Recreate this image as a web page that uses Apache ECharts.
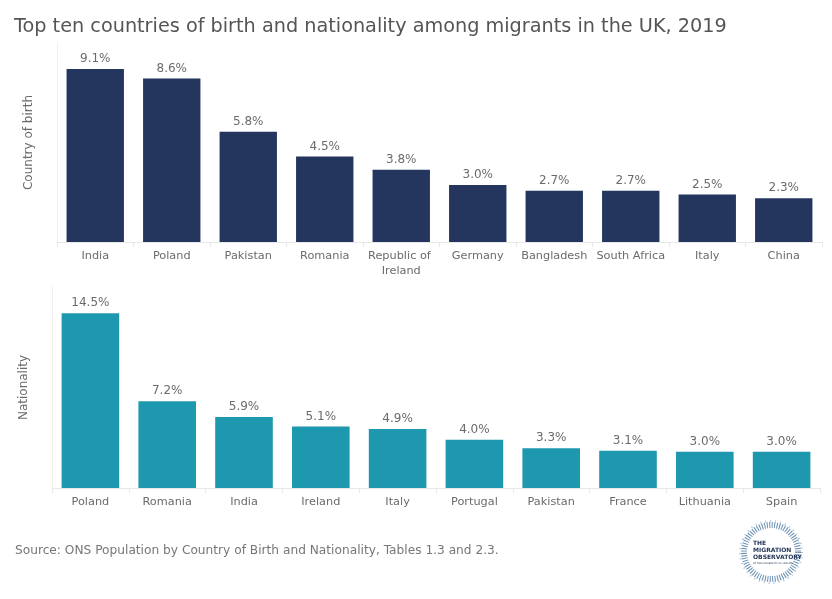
<!DOCTYPE html>
<html>
<head>
<meta charset="utf-8">
<script src="https://cdn.jsdelivr.net/npm/echarts@6/dist/echarts.min.js"></script>
<style>
html,body{margin:0;padding:0;background:#fff;}
#chart{width:832px;height:599px;}
</style>
</head>
<body>
<div id="chart"></div>
<script>
var birthCategories = ['India','Poland','Pakistan','Romania','Republic of Ireland','Germany','Bangladesh','South Africa','Italy','China'];
var birthValues = [9.1, 8.6, 5.8, 4.5, 3.8, 3.0, 2.7, 2.7, 2.5, 2.3];
var nationalityCategories = ['Poland','Romania','India','Ireland','Italy','Portugal','Pakistan','France','Lithuania','Spain'];
var nationalityValues = [14.5, 7.2, 5.9, 5.1, 4.9, 4.0, 3.3, 3.1, 3.0, 3.0];

var FONT = 'DejaVu Sans';
var chart = echarts.init(document.getElementById('chart'), null, {renderer:'canvas'});

function xAxisCfg(gridIndex, cats) {
  return {
    type: 'category', gridIndex: gridIndex, data: cats,
    axisLine: {show: true, lineStyle: {color: '#e8e8e8'}},
    axisTick: {show: true, length: 5, lineStyle: {color: '#e8e8e8'}},
    axisLabel: {interval: 0, color: '#6b6b6b', fontFamily: FONT, fontSize: 11.3, margin: 7,
      width: 76, overflow: 'break', lineHeight: 15}
  };
}
function yAxisCfg(gridIndex, name, maxFactor) {
  return {
    type: 'value', gridIndex: gridIndex, min: 0,
    max: function (v) { return v.max * maxFactor; },
    name: name, nameLocation: 'middle', nameGap: 22,
    nameTextStyle: {color: '#6b6b6b', fontFamily: FONT, fontSize: 12},
    axisLine: {show: true, lineStyle: {color: '#f0f0f0'}},
    axisTick: {show: false}, axisLabel: {show: false}, splitLine: {show: false}
  };
}
function labelCfg() {
  return {show: true, position: 'top', distance: 4, color: '#6b6b6b', fontFamily: FONT, fontSize: 12,
    formatter: function (p) { return p.value.toFixed(1) + '%'; }};
}

chart.setOption({
  animation: false,
  backgroundColor: '#ffffff',
  title: {
    text: 'Top ten countries of birth and nationality among migrants in the UK, 2019',
    left: 9, top: 12,
    textStyle: {color: '#555555', fontFamily: FONT, fontSize: 19.25, fontWeight: 'normal'}
  },
  grid: [
    {left: 57, right: 10, top: 43, height: 199},
    {left: 52, right: 12, top: 287, height: 201}
  ],
  xAxis: [xAxisCfg(0, birthCategories), xAxisCfg(1, nationalityCategories)],
  yAxis: [yAxisCfg(0, 'Country of birth', 1.15), yAxisCfg(1, 'Nationality', 1.15)],
  series: [
    {type: 'bar', xAxisIndex: 0, yAxisIndex: 0, data: birthValues, barCategoryGap: '25%',
      itemStyle: {color: '#24365e'}, label: labelCfg()},
    {type: 'bar', xAxisIndex: 1, yAxisIndex: 1, data: nationalityValues, barCategoryGap: '25%',
      itemStyle: {color: '#1e98af'}, label: labelCfg()}
  ],
  graphic: [
    {type: 'text', left: 15, top: 545,
      style: {text: 'Source: ONS Population by Country of Birth and Nationality, Tables 1.3 and 2.3.',
        fill: '#777777', font: '12.2px "DejaVu Sans"'}},
    {type: 'circle', shape: {cx: 771, cy: 552, r: 27},
      style: {fill: 'none', stroke: '#3f6f9c', lineWidth: 6, lineDash: [1, 1.5], opacity: 0.8}},
    {type: 'circle', shape: {cx: 771, cy: 552, r: 31},
      style: {fill: 'none', stroke: '#7fa6c8', lineWidth: 2, lineDash: [1, 4], opacity: 0.7}},
    {type: 'text', x: 753, y: 540,
      style: {text: 'THE\nMIGRATION\nOBSERVATORY', fill: '#1d2f55', font: 'bold 6px "DejaVu Sans"', lineHeight: 7}},
    {type: 'text', x: 753, y: 562,
      style: {text: 'AT THE UNIVERSITY OF OXFORD', fill: '#1d2f55', font: '2.5px "DejaVu Sans"'}}
  ]
});
</script>
</body>
</html>
